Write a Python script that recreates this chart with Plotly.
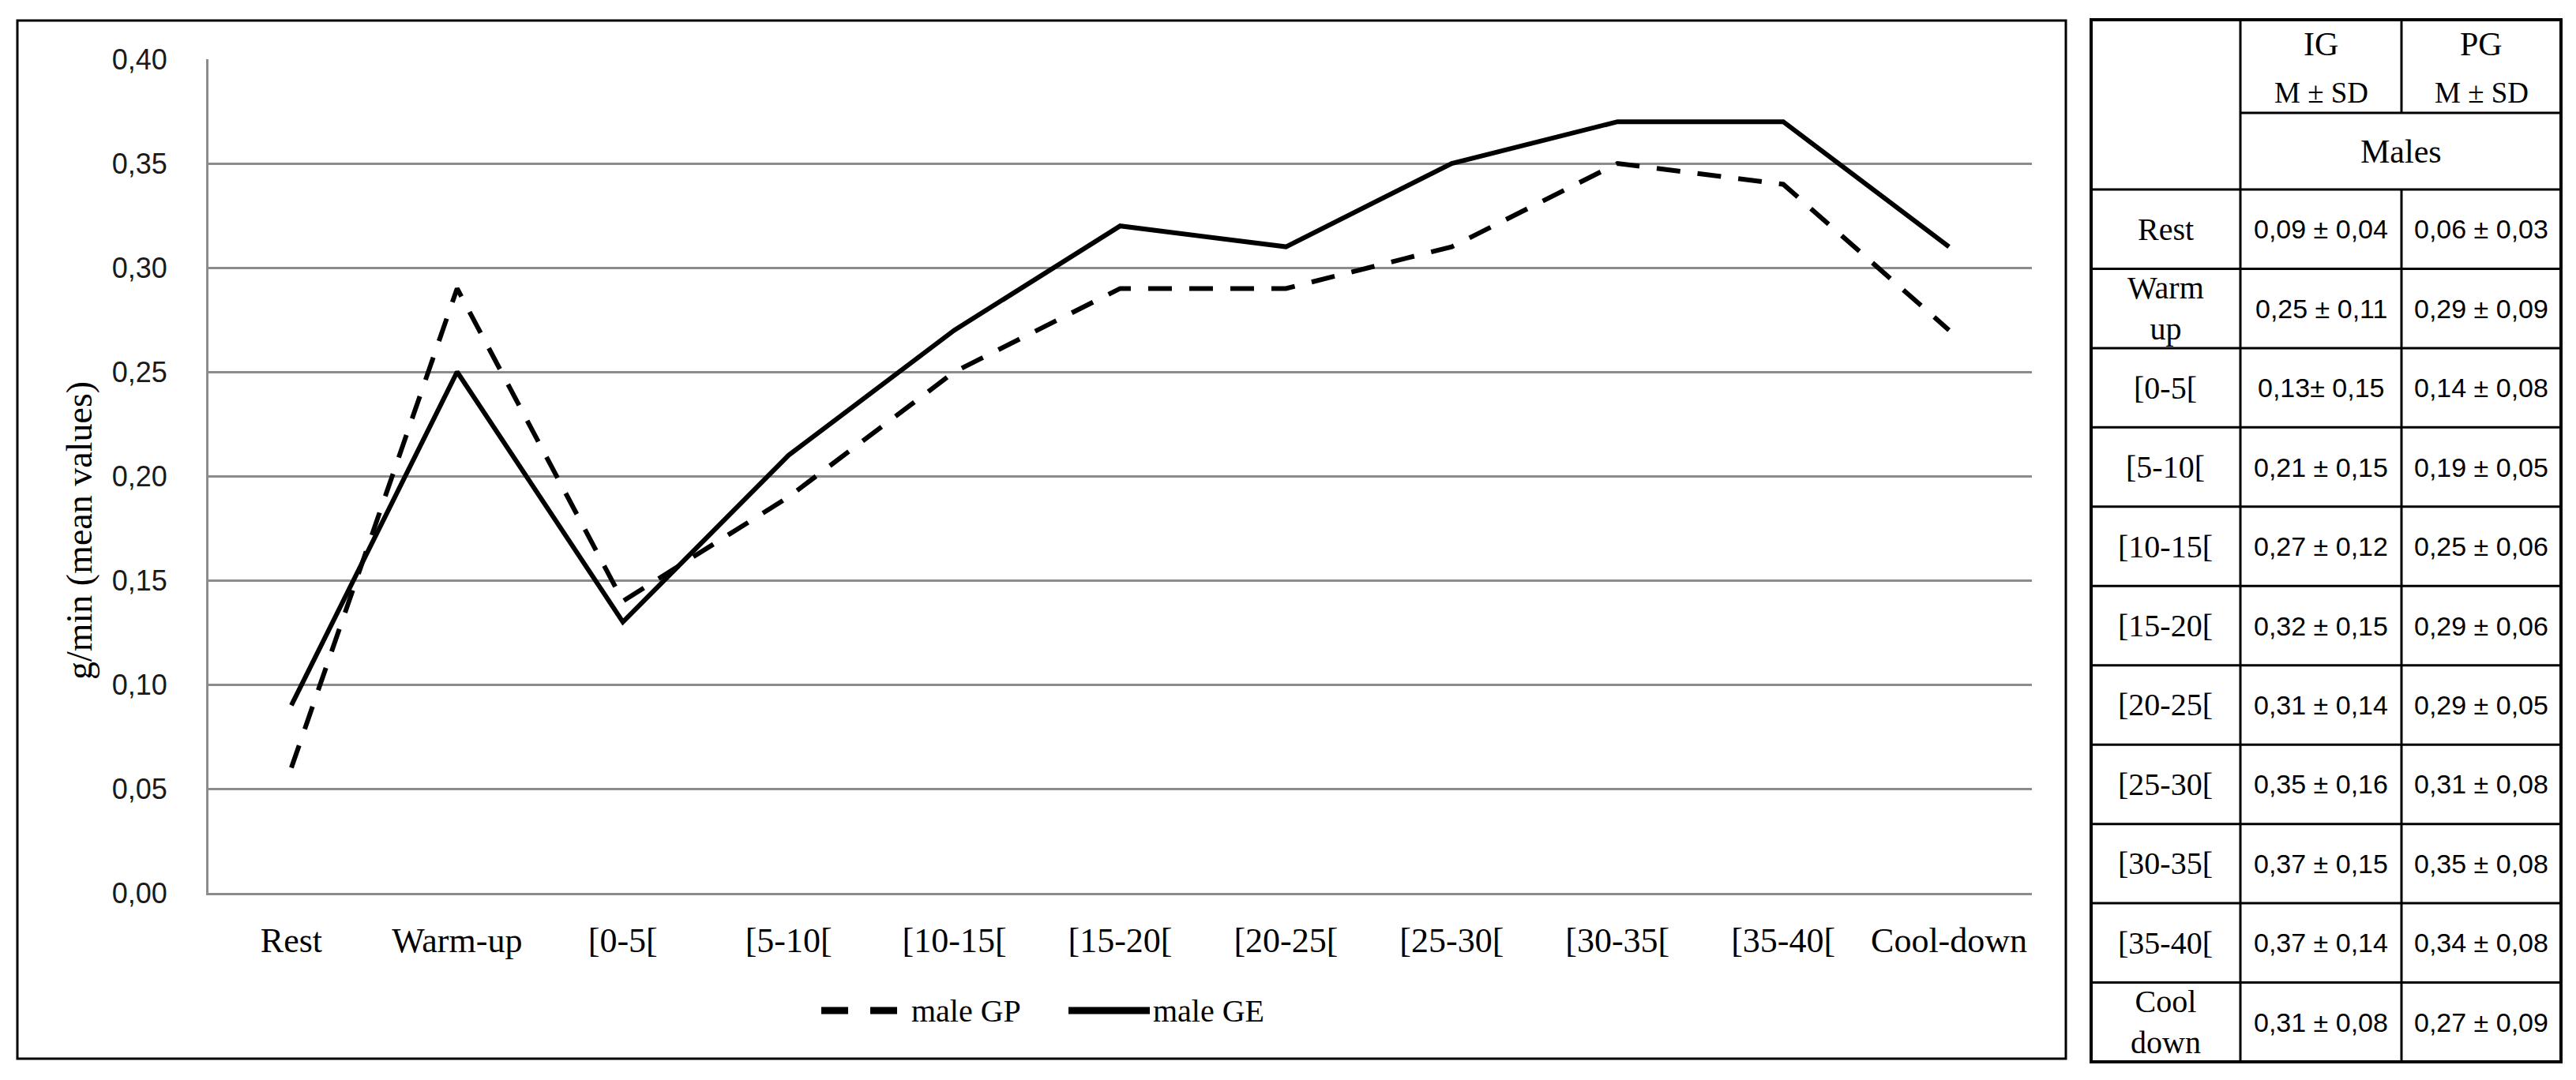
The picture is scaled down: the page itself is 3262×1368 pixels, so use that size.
import plotly.graph_objects as go

# ---------------- data ----------------
categories = ["Rest", "Warm-up", "[0-5[", "[5-10[", "[10-15[", "[15-20[",
              "[20-25[", "[25-30[", "[30-35[", "[35-40[", "Cool-down"]
male_gp = [0.06, 0.29, 0.14, 0.19, 0.25, 0.29, 0.29, 0.31, 0.35, 0.34, 0.27]
male_ge = [0.09, 0.25, 0.13, 0.21, 0.27, 0.32, 0.31, 0.35, 0.37, 0.37, 0.31]
y_tick_values = [0.00, 0.05, 0.10, 0.15, 0.20, 0.25, 0.30, 0.35, 0.40]
y_axis_title = "g/min (mean values)"
legend_names = ["male GP", "male GE"]

table_col_headers = ["IG", "PG"]
table_sub_header = "M ± SD"
table_group = "Males"
table_row_labels = ["Rest", "Warm<br>up", "[0-5[", "[5-10[", "[10-15[", "[15-20[",
                    "[20-25[", "[25-30[", "[30-35[", "[35-40[", "Cool<br>down"]
table_ig = ["0,09 ± 0,04", "0,25 ± 0,11", "0,13± 0,15", "0,21 ± 0,15", "0,27 ± 0,12",
            "0,32 ± 0,15", "0,31 ± 0,14", "0,35 ± 0,16", "0,37 ± 0,15", "0,37 ± 0,14",
            "0,31 ± 0,08"]
table_pg = ["0,06 ± 0,03", "0,29 ± 0,09", "0,14 ± 0,08", "0,19 ± 0,05", "0,25 ± 0,06",
            "0,29 ± 0,06", "0,29 ± 0,05", "0,31 ± 0,08", "0,35 ± 0,08", "0,34 ± 0,08",
            "0,27 ± 0,09"]

# ---------------- layout geometry (pixels) ----------------
W, H = 3262, 1368
L, R, T, B = 264, W - 2573, 75, H - 1131
SERIF = "Liberation Serif, Times New Roman, serif"
SANS = "Liberation Sans, Arial, sans-serif"


def fx(p):
    return (p - L) / (W - L - R)


def fy(p):
    return (H - B - p) / (H - T - B)


fig = go.Figure()
fig.add_trace(go.Scatter(x=categories, y=male_gp, mode="lines", name=legend_names[0],
                         line=dict(color="black", width=6, dash="30px,22px"),
                         showlegend=False))
fig.add_trace(go.Scatter(x=categories, y=male_ge, mode="lines", name=legend_names[1],
                         line=dict(color="black", width=6),
                         showlegend=False))

shapes = []
annotations = []

# chart frame
shapes.append(dict(type="rect", xref="paper", yref="paper",
                   x0=fx(22), x1=fx(2616), y0=fy(1341), y1=fy(26),
                   line=dict(color="black", width=3), layer="below"))

# y-axis title
annotations.append(dict(text=y_axis_title, xref="paper", yref="paper",
                        x=fx(100), y=fy(672), showarrow=False, textangle=-90,
                        xanchor="center", yanchor="middle",
                        font=dict(family=SERIF, size=46, color="black")))

# manual legend
leg_y = fy(1280)
shapes.append(dict(type="line", xref="paper", yref="paper",
                   x0=fx(1040), x1=fx(1138), y0=leg_y, y1=leg_y,
                   line=dict(color="black", width=9, dash="34px,28px")))
annotations.append(dict(text=legend_names[0], xref="paper", yref="paper",
                        x=fx(1152), y=leg_y, showarrow=False, xanchor="left",
                        yanchor="middle", font=dict(family=SERIF, size=40, color="black")))
shapes.append(dict(type="line", xref="paper", yref="paper",
                   x0=fx(1353), x1=fx(1456), y0=leg_y, y1=leg_y,
                   line=dict(color="black", width=9)))
annotations.append(dict(text=legend_names[1], xref="paper", yref="paper",
                        x=fx(1458), y=leg_y, showarrow=False, xanchor="left",
                        yanchor="middle", font=dict(family=SERIF, size=40, color="black")))

# ---------------- table ----------------
tx = [2648, 2837, 3041, 3243]
t_top, h1, h2 = 25, 143, 240
n_rows = len(table_row_labels)
t_bot = 1345
row_h = (t_bot - h2) / n_rows
row_edges = [h2 + i * row_h for i in range(n_rows + 1)]
TW = 3


def hline(x0, x1, y, w=TW):
    shapes.append(dict(type="line", xref="paper", yref="paper",
                       x0=fx(x0), x1=fx(x1), y0=fy(y), y1=fy(y),
                       line=dict(color="black", width=w)))


def vline(x, y0, y1, w=TW):
    shapes.append(dict(type="line", xref="paper", yref="paper",
                       x0=fx(x), x1=fx(x), y0=fy(y0), y1=fy(y1),
                       line=dict(color="black", width=w)))


shapes.append(dict(type="rect", xref="paper", yref="paper",
                   x0=fx(tx[0]), x1=fx(tx[3]), y0=fy(t_bot), y1=fy(t_top),
                   line=dict(color="black", width=4)))
vline(tx[1], t_top, t_bot)
vline(tx[2], t_top, h1)
vline(tx[2], h2, t_bot)
hline(tx[1], tx[3], h1)
for ye in row_edges[:-1]:
    hline(tx[0], tx[3], ye)


def cell_text(text, xc, yc, family, size):
    annotations.append(dict(text=text, xref="paper", yref="paper", x=fx(xc), y=fy(yc),
                            showarrow=False, xanchor="center", yanchor="middle",
                            font=dict(family=family, size=size, color="black")))


c1 = (tx[0] + tx[1]) / 2
c2 = (tx[1] + tx[2]) / 2
c3 = (tx[2] + tx[3]) / 2
for cx, hdr in zip([c2, c3], table_col_headers):
    cell_text(hdr, cx, 56, SERIF, 42)
    cell_text(table_sub_header, cx, 117, SERIF, 37)
cell_text(table_group, (tx[1] + tx[3]) / 2, 192, SERIF, 42)

for i in range(n_rows):
    yc = (row_edges[i] + row_edges[i + 1]) / 2
    cell_text(table_row_labels[i], c1, yc, SERIF, 40)
    cell_text(table_ig[i], c2, yc, SANS, 34)
    cell_text(table_pg[i], c3, yc, SANS, 34)

GRID = "#8c8c8c"
fig.update_layout(
    width=W, height=H,
    margin=dict(l=L, r=R, t=T, b=B, pad=0),
    paper_bgcolor="white", plot_bgcolor="white",
    separators=",.",
    showlegend=False,
    shapes=shapes,
    annotations=annotations,
    xaxis=dict(type="category", categoryorder="array", categoryarray=categories,
               range=[-0.5, len(categories) - 0.5],
               showgrid=False, showline=True, linecolor=GRID, linewidth=3,
               ticks="outside", ticklen=19, tickcolor="rgba(0,0,0,0)",
               tickfont=dict(family=SERIF, size=44, color="black"),
               zeroline=False, fixedrange=True),
    yaxis=dict(range=[0, 0.40], tickvals=y_tick_values, tickformat=".2f",
               showgrid=True, gridcolor=GRID, gridwidth=3,
               showline=True, linecolor=GRID, linewidth=3,
               ticks="outside", ticklen=42, tickcolor="rgba(0,0,0,0)",
               tickfont=dict(family=SANS, size=36, color="#1a1a1a"),
               zeroline=False, fixedrange=True),
)

fig.write_html("out.html", include_plotlyjs=True, full_html=True,
               config={"displayModeBar": False},
               post_script="document.body.style.margin='0';document.body.style.overflow='hidden';")
